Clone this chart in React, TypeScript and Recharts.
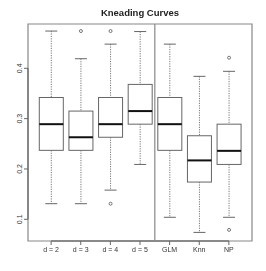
import React from 'react';
import { ComposedChart, Bar, XAxis, YAxis, ReferenceLine, ReferenceArea } from 'recharts';

const categories = ['d = 2', 'd = 3', 'd = 4', 'd = 5', 'GLM', 'Knn', 'NP'];
const positions = [1, 2, 3, 4, 5, 6, 7];
const whiskerLow = [0.131, 0.131, 0.158, 0.209, 0.104, 0.074, 0.104];
const lowerQuartile = [0.237, 0.237, 0.263, 0.289, 0.237, 0.174, 0.209];
const medians = [0.289, 0.263, 0.289, 0.315, 0.289, 0.217, 0.236];
const upperQuartile = [0.342, 0.315, 0.342, 0.368, 0.342, 0.266, 0.289];
const whiskerHigh = [0.474, 0.419, 0.448, 0.473, 0.448, 0.384, 0.394];
const outliers: number[][] = [[], [0.474], [0.474, 0.131], [], [], [], [0.421, 0.079]];
const yTicks = [0.1, 0.2, 0.3, 0.4];
const title = 'Kneading Curves';

const Y_MIN = 0.0569;
const Y_MAX = 0.488;
const X_MIN = 0.22;
const X_MAX = 7.78;

const data = positions.map((p, i) => ({
  pos: p,
  name: categories[i],
  range: [Math.min(whiskerLow[i], ...outliers[i]), Math.max(whiskerHigh[i], ...outliers[i])],
  lo: Math.min(whiskerLow[i], ...outliers[i]),
  hi: Math.max(whiskerHigh[i], ...outliers[i]),
  wLow: whiskerLow[i],
  q1: lowerQuartile[i],
  med: medians[i],
  q3: upperQuartile[i],
  wHigh: whiskerHigh[i],
  out: outliers[i],
}));

const FONT = '"Liberation Sans", Arial, Helvetica, sans-serif';
const BOX = '#666';

const BoxShape = (props: any) => {
  const { x, y, width, height, payload } = props;
  if (payload == null) return null;
  const top = Math.min(y, y + height);
  const h = Math.abs(height);
  const span = payload.hi - payload.lo;
  const py = (v: number) => top + ((payload.hi - v) / span) * h;
  const cx = x + width / 2;
  const half = width / 2;
  const cap = width / 4;
  return (
    <g>
      <line x1={cx} x2={cx} y1={py(payload.wHigh)} y2={py(payload.q3)} stroke="#777" strokeWidth={1} strokeDasharray="1.2 1.2" />
      <line x1={cx} x2={cx} y1={py(payload.q1)} y2={py(payload.wLow)} stroke="#777" strokeWidth={1} strokeDasharray="1.2 1.2" />
      <line x1={cx - cap} x2={cx + cap} y1={py(payload.wHigh)} y2={py(payload.wHigh)} stroke={BOX} strokeWidth={1} />
      <line x1={cx - cap} x2={cx + cap} y1={py(payload.wLow)} y2={py(payload.wLow)} stroke={BOX} strokeWidth={1} />
      <rect x={cx - half} y={py(payload.q3)} width={width} height={py(payload.q1) - py(payload.q3)} fill="#fff" stroke={BOX} strokeWidth={1} />
      <line x1={cx - half} x2={cx + half} y1={py(payload.med)} y2={py(payload.med)} stroke="#111" strokeWidth={2} />
      {payload.out.map((v: number, k: number) => (
        <circle key={k} cx={cx} cy={py(v)} r={1.5} fill="none" stroke="#555" strokeWidth={0.8} />
      ))}
    </g>
  );
};

const XTick = (props: any) => {
  const { x, y, payload } = props;
  return (
    <text
      x={x}
      y={y}
      dy="0.71em"
      textAnchor="middle"
      fontSize={7}
      fontFamily={FONT}
      fill="#333"
      style={{ filter: 'grayscale(1)' }}
    >
      {categories[payload.value - 1]}
    </text>
  );
};

const YTick = (props: any) => {
  const { x, y, payload } = props;
  return (
    <text x={x} y={y} textAnchor="middle" fontSize={7} fontFamily={FONT} fill="#333" transform={`rotate(-90 ${x} ${y})`}>
      {payload.value.toFixed(1)}
    </text>
  );
};

export default function App() {
  return (
    <div style={{ position: 'absolute', left: 0, top: 0, width: 266, height: 271, background: '#fff' }}>
      <div
        style={{
          position: 'absolute',
          left: 0,
          top: 7,
          width: 280,
          height: 11,
          lineHeight: '11px',
          textAlign: 'center',
          fontFamily: FONT,
          fontWeight: 'bold',
          fontSize: 9.5,
          color: '#222',
          filter: 'grayscale(1)',
        }}
      >
        {title}
      </div>
      <ComposedChart width={266} height={271} data={data} margin={{ top: 24, right: 14, bottom: 0, left: 0 }}>
        <XAxis
          dataKey="pos"
          type="number"
          domain={[X_MIN, X_MAX]}
          ticks={positions}
          interval={0}
          allowDataOverflow
          axisLine={false}
          tickLine={{ stroke: '#666' }}
          tickSize={4}
          tickMargin={2}
          height={30}
          tick={<XTick />}
        />
        <YAxis
          type="number"
          domain={[Y_MIN, Y_MAX]}
          ticks={yTicks}
          interval={0}
          allowDataOverflow
          axisLine={false}
          tickLine={{ stroke: '#666' }}
          tickSize={4}
          tickMargin={2}
          width={28}
          tick={<YTick />}
        />
        <ReferenceArea x1={X_MIN} x2={X_MAX} y1={Y_MIN} y2={Y_MAX} fill="none" fillOpacity={0} stroke="#888" strokeWidth={1.2} ifOverflow="visible" />
        <ReferenceLine segment={[{ x: X_MIN, y: 0.1 }, { x: X_MIN, y: 0.4 }]} stroke="#777" strokeWidth={1.5} ifOverflow="visible" />
        <ReferenceLine segment={[{ x: 1, y: Y_MIN }, { x: 7, y: Y_MIN }]} stroke="#777" strokeWidth={1.5} ifOverflow="visible" />
        <ReferenceLine x={4.5} stroke="#888" strokeWidth={1.2} />
        <Bar dataKey="range" barSize={24} shape={<BoxShape />} isAnimationActive={false} />
      </ComposedChart>
    </div>
  );
}
